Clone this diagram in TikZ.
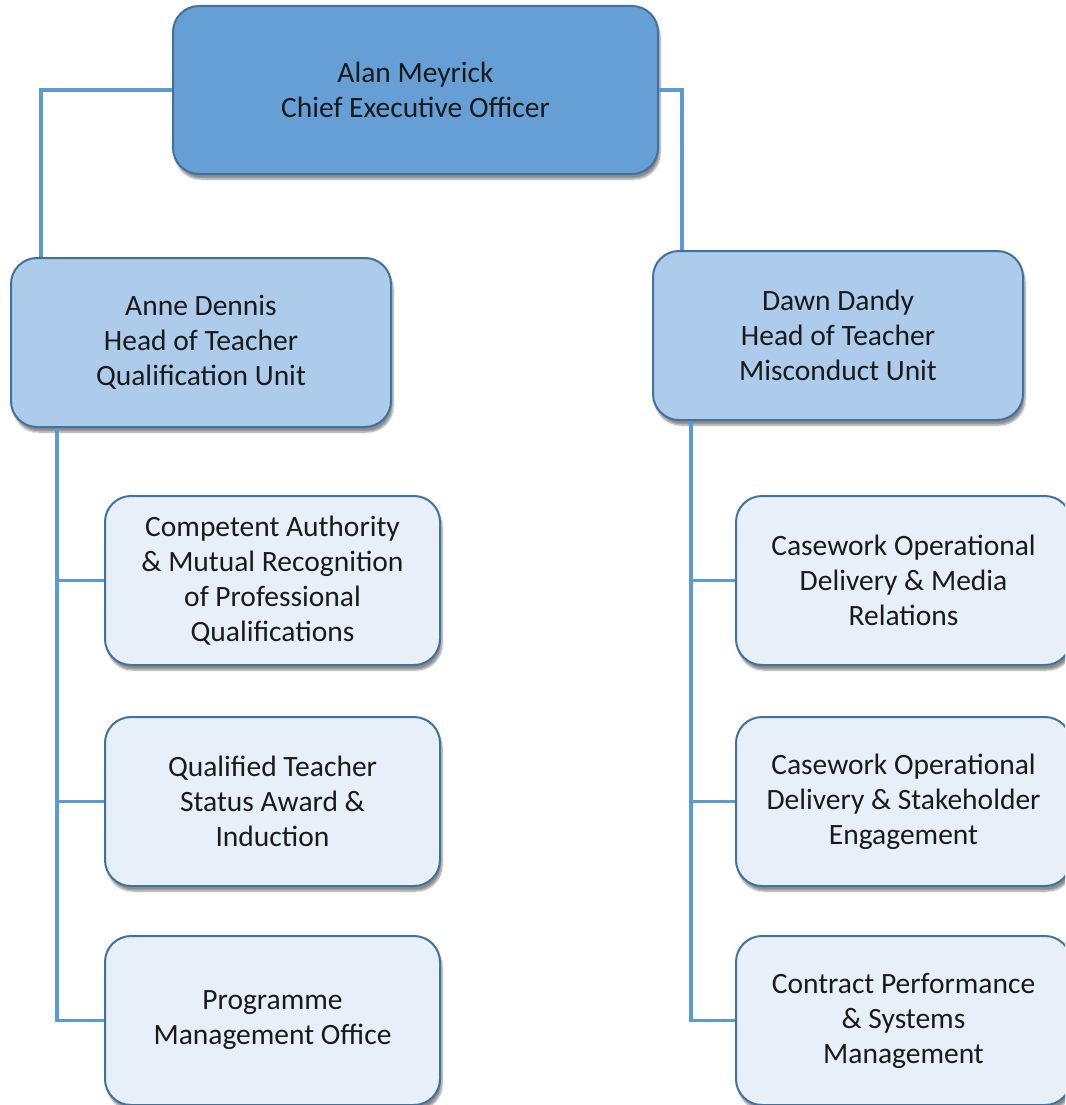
\documentclass[tikz,border=0pt]{standalone}
\usepackage{fontspec}
\setmainfont{Carlito}
\usetikzlibrary{shadows.blur}
\definecolor{ceofill}{HTML}{659FD6}
\definecolor{midfill}{HTML}{ADCBEA}
\definecolor{lowfill}{HTML}{E7EFF9}
\definecolor{boxline}{HTML}{41719C}
\definecolor{connline}{HTML}{5B9BD5}
\definecolor{txt}{HTML}{1A1A1A}
\tikzset{
  orgbox/.style={draw=boxline, line width=2pt, rounded corners=26pt,
    anchor=north west, align=center, text=txt, inner sep=0pt,
    font=\fontsize{29.5}{35}\selectfont,
    blur shadow={shadow xshift=2pt, shadow yshift=-5pt, shadow blur steps=6, shadow opacity=45}},
  ceobox/.style={orgbox, fill=ceofill, minimum width=485pt, minimum height=168pt},
  headbox/.style={orgbox, fill=midfill, minimum width=380pt, minimum height=169pt},
  unitbox/.style={orgbox, fill=lowfill, minimum width=335pt, minimum height=169pt},
  conn/.style={draw=connline, line width=3.4pt}
}
\begin{document}
\begin{tikzpicture}[x=1pt, y=-1pt]
\useasboundingbox (0,0) rectangle (1065,1105);
\clip (0,0) rectangle (1065,1105);
% nodes
\node[ceobox] (ceo) at (172,5) {Alan Meyrick\\Chief Executive Officer};
\node[headbox] (anne) at (10,257) {Anne Dennis\\Head of Teacher\\Qualification Unit};
\node[headbox, minimum width=370pt] (dawn) at (652,250) {Dawn Dandy\\Head of Teacher\\Misconduct Unit};
\node[unitbox] (comp) at (104,495) {Competent Authority\\\& Mutual Recognition\\of Professional\\Qualifications};
\node[unitbox] (qts) at (104,716) {Qualified Teacher\\Status Award \&\\Induction};
\node[unitbox] (pmo) at (104,935) {Programme\\Management Office};
\node[unitbox] (media) at (735,495) {Casework Operational\\Delivery \& Media\\Relations};
\node[unitbox] (stake) at (735,716) {Casework Operational\\Delivery \& Stakeholder\\Engagement};
\node[unitbox] (contract) at (735,935) {Contract Performance\\\& Systems\\Management};
% connector coordinates
\coordinate (annetop) at ([xshift=31pt]anne.north west);
\coordinate (dawntop) at ([xshift=30pt]dawn.north west);
\coordinate (lspine) at ([xshift=47pt]anne.south west);
\coordinate (rspine) at ([xshift=39pt]dawn.south west);
% connectors
\draw[conn] (ceo.west) -| (annetop);
\draw[conn] (ceo.east) -| (dawntop);
\draw[conn] (lspine) |- (pmo.west);
\draw[conn] (comp.west) -- (comp.west -| lspine);
\draw[conn] (qts.west) -- (qts.west -| lspine);
\draw[conn] (rspine) |- (contract.west);
\draw[conn] (media.west) -- (media.west -| rspine);
\draw[conn] (stake.west) -- (stake.west -| rspine);
\end{tikzpicture}
\end{document}
